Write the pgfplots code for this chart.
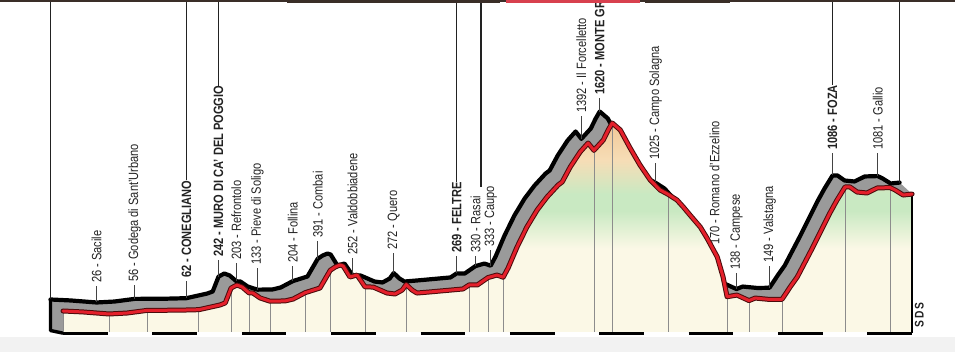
\documentclass[border=0pt]{standalone}
\usepackage{fontspec}
\setmainfont{Liberation Sans}[FakeStretch=0.82]
\usepackage{pgfplots}
\usepackage{pgfplotstable}
\pgfplotsset{compat=1.18}

\definecolor{cream}{HTML}{FBF8E6}
\definecolor{mint}{HTML}{C9E9C2}
\definecolor{peach}{HTML}{F6DDB6}
\definecolor{peachtop}{HTML}{F2C898}
\definecolor{facegray}{HTML}{9A9A9A}
\definecolor{redline}{HTML}{E4202B}
\definecolor{rededge}{HTML}{4A0C0C}
\definecolor{band}{HTML}{F2F2F2}
\definecolor{ink}{HTML}{222222}
\definecolor{topdark}{HTML}{3A2E28}
\definecolor{topred}{HTML}{D8404E}

% altitude tint of the front face: cream in the valleys, green mid-slope, peach at the top
\pgfdeclareverticalshading{relief}{100bp}{color(0bp)=(cream); color(25bp)=(cream);
  color(45bp)=(cream); color(54bp)=(mint); color(58bp)=(mint); color(66bp)=(peach);
  color(75bp)=(peachtop); color(100bp)=(peachtop)}

% stage profile: distance (km), altitude (m)
\pgfplotstableread{
km m
0.0 51
4.5 43
10.3 26
14.3 34
18.8 56
26.2 58
30.4 62
35.1 101
36.3 118
37.6 242
38.9 268
40.1 251
41.6 203
42.5 201
44.1 160
46.3 133
49.7 135
51.5 151
54.2 204
57.5 243
59.8 391
60.9 418
62.0 435
62.7 426
64.2 335
65.8 351
67.6 252
69.4 251
72.5 201
74.3 193
75.9 226
76.8 272
78.1 226
79.2 201
82.1 210
89.5 235
90.9 269
92.7 268
95.1 330
97.1 351
98.5 333
99.6 410
101.6 585
103.8 752
106.1 894
108.3 1002
110.8 1103
111.7 1128
113.5 1253
115.7 1378
117.5 1453
118.8 1392
120.9 1478
122.0 1562
122.9 1620
124.7 1562
126.9 1411
129.1 1270
131.4 1144
133.6 1061
135.4 1025
137.4 977
138.8 919
140.3 852
142.6 752
144.1 660
146.4 502
147.7 335
148.6 170
150.8 184
153.5 138
154.9 159
158.2 147
160.9 149
162.7 251
164.3 335
167.8 585
171.6 869
173.2 977
175.0 1086
176.1 1086
177.7 1044
179.9 1036
182.2 1078
185.1 1081
186.2 1061
188.0 1019
190.0 1027
}\prof

\tikzset{
  lbl/.style={rotate=90, anchor=west, inner sep=0pt, text=ink,
    font=\fontsize{13.5}{14}\selectfont},
  bold/.style={font=\fontsize{13.5}{14}\selectfont\bfseries},
  tick/.style={draw=ink!85, line width=0.9pt},
  tall/.style={draw=ink, line width=1.3pt},
  drop/.style={draw=black!45, line width=0.8pt},
}

% [style]{km}{altitude}{label foot (m)}{id}{name}
\newcommand\waypoint[6][]{%
  \node[lbl,#1] (#5) at ([xshift=-12.5pt]axis cs:#2,#4) {#3 - #6};
  \draw[tick] ([xshift=-12.5pt,yshift=11.5pt]axis cs:#2,#3) -- ([yshift=-3pt]#5.west);
}
% thin line on the front face, from the profile down to the base
\newcommand\drop[2]{\draw[drop] (axis cs:#1,#2) -- (axis cs:#1,-124);}

\begin{document}
\begin{tikzpicture}
\begin{axis}[
  width=955pt, height=352pt, scale only axis,
  xmin=-14.1, xmax=199.6, ymin=-291.3, ymax=2646.8,
  hide axis, clip=true,
]
\coordinate (bl) at (rel axis cs:0,0);
\coordinate (tr) at (rel axis cs:1,1);
\coordinate (top) at (rel axis cs:0,1);

% light band along the bottom
\fill[band] (rel axis cs:0,0) rectangle (rel axis cs:1,0.0426);

% rear edge of the profile and the grey top face
\addplot[draw=none, fill=facegray] table[x expr=\thisrow{km}-2.8, y expr=\thisrow{m}+96]{\prof}
  -- (axis cs:190,1027) -- (axis cs:190,-124) -- (axis cs:-2.8,-124) -- cycle;
\addplot[black, line width=4.2pt, line join=round, line cap=round]
  table[x expr=\thisrow{km}-2.8, y expr=\thisrow{m}+96]{\prof};
\draw[black, line width=3.4pt, line join=round] (axis cs:-2.8,147) -- (axis cs:-2.8,-112) -- (axis cs:0,-134);

% place names
\waypoint{10.3}{26}{285}{sacile}{Sacile}
\waypoint{18.8}{56}{293}{godega}{Godega di Sant'Urbano}
\waypoint[bold]{30.4}{62}{326}{conegliano}{CONEGLIANO}
\waypoint[bold]{37.6}{242}{502}{muro}{MURO DI CA' DEL POGGIO}
\waypoint{41.6}{203}{477}{refrontolo}{Refrontolo}
\waypoint{46.3}{133}{435}{pieve}{Pieve di Soligo}
\waypoint{54.2}{204}{452}{follina}{Follina}
\waypoint{59.8}{391}{660}{combai}{Combai}
\waypoint{67.6}{252}{518}{valdo}{Valdobbiadene}
\waypoint{76.8}{272}{560}{quero}{Quero}
\waypoint[bold]{90.9}{269}{535}{feltre}{FELTRE}
\waypoint{95.1}{330}{535}{rasai}{Rasai}
\waypoint{98.5}{333}{585}{caupo}{Caupo}
\waypoint{118.8}{1392}{1704}{forcelletto}{Il Forcelletto}
\waypoint[bold]{122.9}{1620}{1854}{grappa}{MONTE GRAPPA}
\waypoint{135.4}{1025}{1311}{solagna}{Campo Solagna}
\waypoint{148.6}{170}{602}{romano}{Romano d'Ezzelino}
\waypoint{153.5}{138}{393}{campese}{Campese}
\waypoint{160.9}{149}{452}{valstagna}{Valstagna}
\waypoint[bold]{175.0}{1086}{1395}{foza}{FOZA}
\waypoint{185.1}{1081}{1395}{gallio}{Gallio}

% long leaders up to the header
\draw[tall] (axis cs:-2.8,147) -- (axis cs:-2.8,2700);
\draw[tall] (conegliano.east) -- (conegliano.east |- top);
\draw[tall] (muro.east) -- (muro.east |- top);
\draw[tall] (feltre.east) -- (feltre.east |- top);
\draw[tall] (axis cs:93.5,1086) -- (axis cs:93.5,2700);
\draw[tall] (foza.east) -- (foza.east |- top);
\draw[tall] (axis cs:187.2,1123) -- (axis cs:187.2,2700);

% front face
\addplot[draw=none, shade, shading=relief] table[x=km, y=m]{\prof}
  -- (axis cs:190,-124) -- (axis cs:0,-124) -- cycle;
\drop{0}{51}
\drop{10.3}{26}
\drop{18.8}{56}
\drop{30.4}{62}
\drop{37.6}{242}
\drop{41.6}{203}
\drop{46.3}{133}
\drop{54.2}{204}
\drop{59.8}{391}
\drop{67.6}{252}
\drop{76.8}{272}
\drop{90.9}{269}
\drop{95.1}{330}
\drop{98.5}{333}
\drop{118.8}{1392}
\drop{122.9}{1620}
\drop{135.4}{1025}
\drop{148.6}{170}
\drop{153.5}{138}
\drop{160.9}{149}
\drop{175.0}{1086}
\drop{185.1}{1081}
\draw[black, line width=1.6pt] (axis cs:190,1027) -- (axis cs:190,-134);

% road line
\addplot[rededge, line width=5pt, line join=round, line cap=round] table[x=km, y=m]{\prof};
\addplot[redline, line width=3pt, line join=round, line cap=round] table[x=km, y=m]{\prof};

% 10 km scale along the base
\addplot[black, line width=3pt, unbounded coords=jump] coordinates {
  (0,-137) (10,-137) (15,nan) (20,-137) (30,-137) (35,nan)
  (40,-137) (50,-137) (55,nan) (60,-137) (70,-137) (75,nan)
  (80,-137) (90,-137) (95,nan) (100,-137) (110,-137) (115,nan)
  (120,-137) (130,-137) (135,nan) (140,-137) (150,-137) (155,nan)
  (160,-137) (170,-137) (175,nan) (180,-137) (190,-137)};

\node[rotate=90, inner sep=0pt, text=ink, font=\fontsize{12.5}{13}\selectfont\bfseries]
  at (axis cs:191.6,20) {S\kern2pt D\kern2pt S};

% header strip
\fill[topdark] (rel axis cs:0,1) rectangle (rel axis cs:1,0.9957);
\fill[topdark] (rel axis cs:0.3005,1) rectangle (rel axis cs:0.5236,0.9915);
\fill[topred] (rel axis cs:0.530,1) rectangle (rel axis cs:0.670,0.9915);
\fill[topdark] (rel axis cs:0.675,1) rectangle (rel axis cs:0.764,0.9915);
\end{axis}
\pgfresetboundingbox
\path[use as bounding box] (bl) rectangle (tr);
\end{tikzpicture}
\end{document}
